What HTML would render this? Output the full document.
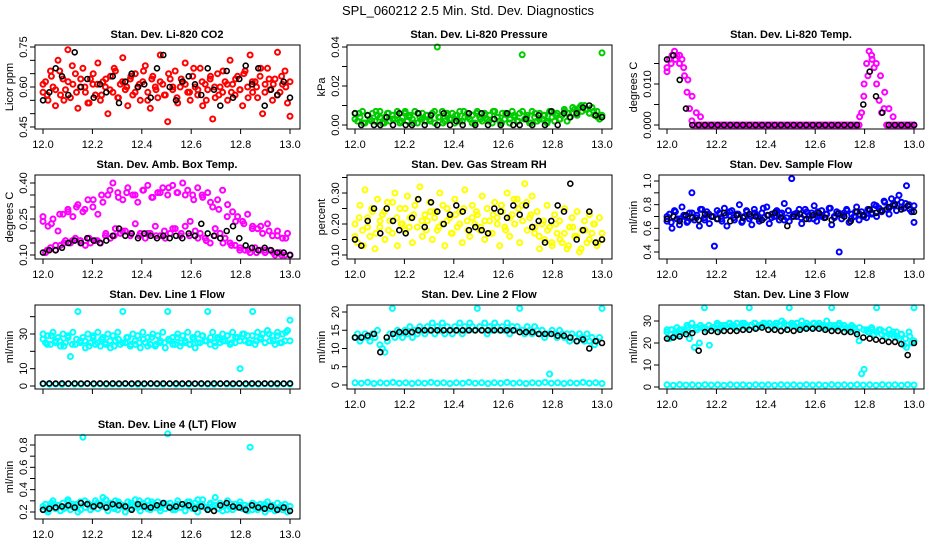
<!DOCTYPE html>
<html><head><meta charset="utf-8">
<style>
html,body{margin:0;padding:0;background:#fff;}
svg{display:block;font-family:"Liberation Sans",sans-serif;}
</style></head>
<body>
<svg id="chart" width="936" height="540" viewBox="0 0 936 540" xmlns="http://www.w3.org/2000/svg">
<text x="468" y="15" text-anchor="middle" font-size="13">SPL_060212  2.5 Min. Std. Dev. Diagnostics</text>
</svg>
<script>
const xTickVals = [12.0,12.2,12.4,12.6,12.8,13.0];
const xTickLabels = ["12.0","12.2","12.4","12.6","12.8","13.0"];

const co2Red = [0.58,0.62,0.55,0.66,0.60,0.53,0.70,0.57,0.63,0.59,0.74,0.56,0.61,0.65,0.52,0.60,0.67,0.58,0.54,0.63,
0.61,0.57,0.69,0.55,0.62,0.60,0.50,0.64,0.58,0.66,0.56,0.61,0.71,0.59,0.53,0.63,0.57,0.65,0.60,0.55,
0.62,0.68,0.58,0.52,0.64,0.60,0.56,0.72,0.61,0.57,0.47,0.63,0.59,0.66,0.54,0.60,0.62,0.69,0.58,0.55,
0.64,0.60,0.57,0.67,0.53,0.61,0.59,0.63,0.48,0.56,0.65,0.60,0.58,0.62,0.55,0.70,0.61,0.57,0.64,0.59,
0.53,0.66,0.60,0.72,0.58,0.62,0.56,0.64,0.50,0.61,0.67,0.59,0.55,0.63,0.73,0.58,0.61,0.66,0.54,0.49];
const co2Red2 = [0.61,0.57,0.64,0.59,0.66,0.55,0.62,0.68,0.58,0.63,0.60,0.54,0.65,0.61,0.57,0.63,0.59,0.67,0.56,0.62,0.60,0.64,0.58,0.61,0.66,0.55,0.63,0.59,0.62,0.57,0.65,0.60,0.56,0.63,0.61,0.58,0.67,0.59,0.62,0.55,0.64,0.60,0.57,0.66,0.61,0.58,0.63,0.59,0.65,0.56,0.62,0.60,0.67,0.58,0.63,0.61,0.57,0.64,0.60,0.62];
const co2Black = [0.55,0.58,0.67,0.64,0.57,0.73,0.60,0.63,0.56,0.61,0.58,0.64,0.54,0.62,0.65,0.60,0.61,0.56,0.67,0.72,0.60,0.55,0.62,0.64,0.61,0.57,0.67,0.59,0.53,0.66,0.56,0.63,0.68,0.61,0.67,0.53,0.59,0.57,0.62,0.56];

const pressGreen = [0.006,0.002,0.004,0.007,0.001,0.005,0.003,0.006,0.002,0.005,
0.007,0.001,0.004,0.006,0.002,0.005,0.003,0.007,0.001,0.004,
0.006,0.002,0.005,0.003,0.007,0.001,0.004,0.006,0.002,0.005,
0.003,0.006,0.001,0.040,0.004,0.007,0.002,0.005,0.003,0.006,
0.001,0.005,0.007,0.002,0.004,0.006,0.003,0.005,0.001,0.007,
0.004,0.002,0.006,0.003,0.005,0.001,0.007,0.004,0.002,0.006,
0.003,0.005,0.001,0.007,0.004,0.002,0.006,0.036,0.003,0.005,
0.001,0.007,0.004,0.002,0.006,0.003,0.005,0.001,0.007,0.004,
0.002,0.006,0.003,0.005,0.007,0.002,0.004,0.006,0.008,0.005,
0.009,0.007,0.010,0.008,0.006,0.009,0.005,0.007,0.003,0.037];
const pressGreen2 = [0.003,0.006,0.001,0.005,0.002,0.007,0.004,0.001,0.006,0.003,0.005,0.002,0.007,0.004,0.001,0.006,0.003,0.005,0.002,0.007,0.004,0.001,0.006,0.003,0.005,0.002,0.007,0.004,0.001,0.006,0.003,0.005,0.002,0.007,0.004,0.001,0.006,0.003,0.005,0.002,0.007,0.004,0.001,0.006,0.003,0.005,0.002,0.007,0.005,0.003,0.008,0.006,0.009,0.007,0.010,0.008,0.006,0.007,0.004,0.005];
const pressBlack = [0.006,0.0,0.005,0.0,0.0,0.004,0.0,0.006,0.0,0.0,0.006,0.0,0.005,0.0,0.006,0.0,0.002,0.0,0.006,0.0,0.006,0.0,0.003,0.0,0.006,0.0,0.0,0.003,0.0,0.005,0.0,0.007,0.0,0.006,0.004,0.006,0.009,0.010,0.005,0.004];

const tempMag = [0.014,0.016,0.017,0.018,0.017,0.015,0.016,0.012,0.008,0.004,0.001,0,0,0,0,0,0,0,0,0,
0,0,0,0,0,0,0,0,0,0,0,0,0,0,0,0,0,0,0,0,
0,0,0,0,0,0,0,0,0,0,0,0,0,0,0,0,0,0,0,0,
0,0,0,0,0,0,0,0,0,0,0,0,0,0,0,0,0,0,0.003,0.010,
0.015,0.018,0.017,0.014,0.010,0.006,0.003,0.004,0,0,0,0,0,0,0,0,0,0,0,0];
const tempMag2 = [0.013,0.015,0.016,0.017,0.014,0.011,0.007,0.003,0.002,0,0,0,0,0,0,0,0,0,0,0,0,0,0,0,0,0,0,0,0,0,0,0,0,0,0,0,0,0,0,0,0,0,0,0,0,0,0.002,0.007,0.012,0.016,0.015,0.012,0.008,0.004,0.002,0,0,0,0,0];
const tempBlack = [0.016,0.017,0.011,0.004,0,0,0,0,0,0,0,0,0,0,0,0,0,0,0,0,0,0,0,0,0,0,0,0,0,0,0,0.005,0.013,0.007,0.003,0,0,0,0,0];

const ambMag = [.26,.11,.22,.13,.25,.12,.20,.14,.27,.16,.29,.15,.26,.17,.31,.16,.28,.14,.33,.15,
.30,.16,.27,.15,.32,.18,.35,.17,.40,.21,.36,.19,.33,.20,.38,.18,.35,.23,.32,.19,
.37,.17,.39,.19,.34,.22,.36,.18,.38,.17,.35,.19,.39,.21,.36,.18,.40,.22,.37,.24,
.35,.20,.38,.19,.34,.17,.36,.15,.30,.21,.33,.19,.37,.17,.31,.15,.28,.14,.26,.13,
.24,.12,.27,.11,.22,.13,.21,.12,.19,.11,.23,.12,.18,.10,.20,.11,.17,.10,.19,.10];
const ambMag2 = [.24,.12,.23,.14,.27,.15,.28,.16,.30,.15,.29,.17,.33,.16,.35,.19,.37,.18,.34,.20,.36,.19,.35,.18,.37,.19,.34,.18,.36,.20,.38,.21,.36,.19,.35,.18,.33,.17,.35,.16,.32,.18,.29,.15,.26,.14,.24,.12,.23,.12,.21,.11,.22,.12,.20,.11,.18,.10,.17,.10];
const ambBlack = [.11,.12,.12,.13,.15,.16,.15,.17,.16,.15,.16,.18,.21,.18,.19,.17,.19,.18,.17,.18,.17,.18,.17,.19,.18,.23,.19,.18,.17,.20,.22,.17,.14,.13,.12,.13,.12,.11,.11,.10];

const rhYellow = [.20,.14,.26,.18,.31,.22,.16,.24,.12,.28,.19,.23,.15,.27,.21,.17,.30,.13,.25,.20,
.18,.29,.22,.14,.26,.19,.32,.16,.23,.21,.27,.15,.24,.18,.30,.20,.13,.25,.22,.17,
.28,.19,.24,.14,.31,.21,.16,.26,.20,.23,.18,.29,.15,.25,.21,.17,.27,.22,.13,.24,
.19,.30,.16,.23,.20,.28,.14,.26,.33,.18,.22,.29,.17,.24,.12,.20,.15,.26,.19,.13,
.23,.17,.21,.14,.25,.12,.19,.22,.16,.24,.11,.18,.21,.14,.23,.17,.20,.13,.22,.15];
const rhYellow2 = [.16,.22,.13,.19,.25,.17,.21,.24,.18,.27,.22,.20,.25,.19,.23,.28,.21,.18,.24,.22,.19,.26,.21,.17,.23,.20,.25,.18,.22,.24,.19,.21,.17,.23,.20,.26,.18,.22,.28,.25,.21,.27,.23,.19,.16,.21,.18,.14,.20,.15,.17,.13,.19,.16,.12,.18,.15,.20,.14,.17];
const rhBlack = [.15,.13,.21,.25,.17,.25,.21,.18,.17,.22,.28,.19,.27,.24,.20,.23,.26,.24,.18,.19,.18,.17,.25,.24,.22,.26,.23,.26,.19,.21,.14,.21,.26,.24,.33,.15,.18,.24,.14,.15];

const flowBlue = [.66,.72,.60,.75,.68,.63,.78,.70,.65,.73,.90,.67,.71,.62,.76,.69,.74,.64,.70,.45,
.68,.73,.66,.77,.62,.71,.75,.67,.72,.80,.65,.70,.74,.68,.63,.76,.71,.66,.73,.69,
.78,.64,.72,.70,.75,.67,.73,.81,.69,.66,1.02,.72,.70,.76,.64,.71,.74,.68,.73,.79,
.66,.71,.75,.69,.72,.77,.63,.70,.74,.40,.68,.73,.76,.65,.72,.70,.78,.67,.74,.71,
.69,.75,.72,.80,.70,.77,.74,.83,.76,.72,.85,.79,.75,.88,.82,.77,.96,.80,.74,.65];
const flowBlue2 = [.70,.65,.74,.68,.71,.66,.73,.69,.76,.67,.72,.70,.75,.68,.71,.74,.69,.72,.66,.75,.70,.73,.68,.77,.71,.69,.74,.72,.67,.75,.70,.73,.69,.76,.71,.68,.74,.70,.72,.77,.69,.73,.71,.75,.68,.74,.72,.70,.76,.73,.79,.75,.82,.77,.80,.84,.78,.81,.76,.79];
const flowBlack = [.68,.70,.66,.71,.69,.67,.72,.70,.68,.73,.66,.71,.69,.72,.70,.67,.71,.73,.69,.62,.70,.72,.68,.71,.73,.69,.67,.72,.70,.66,.74,.71,.76,.73,.75,.78,.80,.76,.79,.74];

const line1Cyan = [30,25,29,24,31,26,28,23,30,25,29,17,31,24,43,26,28,22,30,25,
29,24,31,23,28,25,30,22,29,26,31,24,43,25,28,23,30,24,29,22,
31,25,28,24,30,23,29,25,31,22,43,26,28,24,30,23,29,25,31,24,
28,22,30,25,29,26,43,24,31,23,28,25,30,26,29,24,31,25,28,10,
30,26,29,25,43,24,31,27,30,25,32,26,29,24,31,25,30,26,32,38];
const line1Cyan2 = [27,24,29,25,26,23,28,24,27,25,26,23,28,25,27,24,26,23,27,25,28,24,26,25,27,23,28,24,26,25,27,24,28,25,26,24,27,25,29,26,28,25,27,26,29,25,28,26,30,25,29,26,28,25,30,26,29,25,31,26];
const line1Zero = [1.2,1.0,1.1,0.9,1.2,1.0,1.1,1.3,1.0,1.2,0.9,1.1,1.0,1.2,1.1,0.9,1.0,1.2,1.1,1.0,1.2,0.9,1.1,1.0,1.2,1.1,1.0,0.9,1.2,1.1,1.0,1.2,0.9,1.1,1.0,1.2,1.1,1.0,1.2,1.1];
const line1Black = [1.4,1.5,1.4,1.5,1.4,1.5,1.4,1.5,1.4,1.5,1.4,1.5,1.4,1.5,1.4,1.5,1.4,1.5,1.4,1.5,1.4,1.5,1.4,1.5,1.4,1.5,1.4,1.5,1.4,1.5,1.4,1.5,1.4,1.5,1.4,1.5,1.4,1.5,1.4,1.5];

const line2Cyan = [13,14,12,13,14,13,12,14,13,15,11,10,9,12,14,21,13,15,14,13,
15,14,16,13,15,14,16,15,14,16,15,17,14,16,15,17,14,16,15,14,
16,15,17,14,16,15,17,16,15,21,16,15,17,14,16,15,17,16,15,16,
15,17,14,16,15,16,21,15,14,16,15,14,16,15,14,15,13,14,3,15,
14,13,15,14,13,14,12,14,13,12,14,13,12,14,12,13,11,12,13,21];
const line2Zero = [0.6,0.5,0.7,0.4,0.6,0.5,0.7,0.5,0.6,0.4,0.6,0.5,0.7,0.5,0.6,0.4,0.6,0.5,0.7,0.5,0.6,0.4,0.6,0.5,0.7,0.5,0.6,0.4,0.6,0.5,0.7,0.5,0.6,0.4,0.6,0.5,0.7,0.5,0.6,0.4];
const line2Black = [13,13,13.5,14,9,13,14,14.5,14.5,14.5,15,15,15,15,15,15,15,15,15,15,15,15,15,15,15,15,14.5,14.5,14.5,14,14,14,13.5,13.5,13,12,12.5,10,12,11.5];

const line3Cyan = [26,22,26,23,27,24,26,25,28,22,29,18,26,20,27,36,26,19,27,27,
28,26,27,28,27,29,28,27,29,27,28,29,27,36,28,29,27,28,28,29,
28,29,27,28,29,28,30,27,28,36,29,28,29,27,30,28,29,28,27,29,
28,29,27,28,30,27,36,28,27,29,27,28,27,26,28,27,25,21,6,8,
26,25,27,24,36,26,24,25,23,26,24,23,25,22,24,19,18,25,20,36];
const line3Cyan2 = [25,26,24,26,25,27,26,27,28,27,28,27,29,28,28,29,28,27,29,28,28,29,28,29,28,27,29,28,29,28,28,29,28,27,28,29,28,28,27,28,27,28,27,26,27,26,27,26,25,26,25,26,25,24,25,23,24,22,23,21];
const line3Zero = [1.0,0.8,1.1,0.9,1.0,0.8,1.1,0.9,1.0,0.8,1.1,0.9,1.0,0.8,1.1,0.9,1.0,0.8,1.1,0.9,1.0,0.8,1.1,0.9,1.0,0.8,1.1,0.9,1.0,0.8,1.1,0.9,1.0,0.8,1.1,0.9,1.0,0.8,1.1,0.9];
const line3Black = [22,22.5,23,24,24.5,16.5,25,25.5,25,25.5,25.5,25.5,26,26,26.5,27,26,26,25.5,26,25.5,26,26.5,26.5,26.5,26,25.5,25.5,25,25,24,22.5,22,21.5,21,20.5,20.5,19.5,14.5,20];

const line4Cyan = [.22,.27,.20,.25,.30,.23,.26,.21,.28,.24,.31,.22,.27,.25,.20,.29,.87,.24,.28,.22,
.26,.30,.23,.27,.33,.25,.21,.28,.24,.30,.22,.27,.25,.20,.29,.23,.26,.31,.24,.21,
.28,.25,.30,.22,.27,.24,.29,.21,.26,.23,.90,.28,.25,.22,.30,.24,.27,.21,.29,.25,
.23,.28,.20,.26,.31,.24,.22,.27,.25,.33,.23,.28,.21,.26,.30,.24,.22,.27,.25,.29,
.23,.26,.21,.78,.28,.24,.22,.27,.25,.20,.29,.23,.26,.21,.28,.24,.22,.27,.20,.25];
const line4Cyan2 = [.25,.22,.28,.24,.26,.23,.29,.25,.27,.22,.30,.26,.24,.28,.25,.31,.27,.23,.29,.26,.24,.28,.25,.30,.27,.23,.29,.26,.24,.28,.25,.22,.27,.24,.26,.29,.25,.31,.27,.24,.28,.26,.23,.25,.22,.27,.24,.26,.23,.25,.22,.26,.24,.27,.23,.25,.22,.26,.24,.25];
const line4Black = [.22,.23,.24,.25,.26,.24,.28,.27,.25,.26,.24,.27,.26,.25,.22,.27,.25,.24,.26,.28,.24,.25,.27,.26,.23,.25,.22,.21,.26,.28,.25,.24,.22,.26,.24,.23,.25,.22,.24,.21];

const panelTitles = ["Stan. Dev. Li-820 CO2","Stan. Dev. Li-820 Pressure","Stan. Dev. Li-820 Temp.","Stan. Dev. Amb. Box Temp.","Stan. Dev. Gas Stream RH","Stan. Dev. Sample Flow","Stan. Dev. Line 1 Flow","Stan. Dev. Line 2 Flow","Stan. Dev. Line 3 Flow","Stan. Dev. Line 4 (LT) Flow"];
const yTitles = ["Licor ppm","kPa","degrees C","degrees C","percent","ml/min","ml/min","ml/min","ml/min","ml/min"];
const yTicks = [[0.45,0.50,0.55,0.60,0.65,0.70,0.75],[0,0.01,0.02,0.03,0.04],[0,0.005,0.010,0.015],[0.10,0.15,0.20,0.25,0.30,0.35,0.40],[0.10,0.15,0.20,0.25,0.30,0.35],[0.4,0.5,0.6,0.7,0.8,0.9,1.0],[0,10,20,30,40],[0,5,10,15,20],[0,10,20,30],[0.2,0.3,0.4,0.5,0.6,0.7,0.8]];
const yLabelVals = [[0.45,0.60,0.75],[0,0.02,0.04],[0,0.010],[0.10,0.25,0.40],[0.10,0.20,0.30],[0.4,0.6,0.8,1.0],[0,10,30],[0,5,10,15,20],[0,10,20,30],[0.2,0.4,0.6,0.8]];
const yLabelText = [["0.45","0.60","0.75"],["0.00","0.02","0.04"],["0.000","0.010"],["0.10","0.25","0.40"],["0.10","0.20","0.30"],["0.4","0.6","0.8","1.0"],["0","10","30"],["0","5","10","15","20"],["0","10","20","30"],["0.2","0.4","0.6","0.8"]];

const svg = document.getElementById('chart');
const NS = 'http://www.w3.org/2000/svg';
function mk(tag, attrs, parent){const e=document.createElementNS(NS,tag);for(const k in attrs)e.setAttribute(k,attrs[k]);(parent||svg).appendChild(e);return e;}

const layout = [
 {c:0,r:0,a:0.75,pa:47,b:0.45,pb:127},
 {c:1,r:0,a:0.04,pa:47,b:0,pb:125},
 {c:2,r:0,a:0.010,pa:84,b:0,pb:125},
 {c:0,r:1,a:0.40,pa:53,b:0.10,pb:125},
 {c:1,r:1,a:0.30,pa:63,b:0.10,pb:125},
 {c:2,r:1,a:1.0,pa:51,b:0.4,pb:122},
 {c:0,r:2,a:30,pa:74,b:0,pb:126},
 {c:1,r:2,a:20,pa:52,b:0,pb:125},
 {c:2,r:2,a:30,pa:61,b:0,pb:127},
 {c:0,r:3,a:0.8,pa:55,b:0.2,pb:122}
];
const seriesFor = [
 [[co2Red,'#ff0000'],[co2Red2,'#ff0000'],[co2Black,'#000']],
 [[pressGreen,'#00cc00'],[pressGreen2,'#00cc00'],[pressBlack,'#000']],
 [[tempMag,'#ff00ff'],[tempMag2,'#ff00ff'],[tempBlack,'#000']],
 [[ambMag,'#ff00ff'],[ambMag2,'#ff00ff'],[ambBlack,'#000']],
 [[rhYellow,'#ffff00'],[rhYellow2,'#ffff00'],[rhBlack,'#000']],
 [[flowBlue,'#0000ff'],[flowBlue2,'#0000ff'],[flowBlack,'#000']],
 [[line1Cyan,'#00ffff'],[line1Cyan2,'#00ffff'],[line1Zero,'#00ffff'],[line1Black,'#000']],
 [[line2Cyan,'#00ffff'],[line2Zero,'#00ffff'],[line2Black,'#000']],
 [[line3Cyan,'#00ffff'],[line3Cyan2,'#00ffff'],[line3Zero,'#00ffff'],[line3Black,'#000']],
 [[line4Cyan,'#00ffff'],[line4Cyan2,'#00ffff'],[line4Black,'#000']]
];

layout.forEach((L, p) => {
  const ox = 312*L.c, oy = 130*L.r;
  const g = mk('g', {transform:`translate(${ox},${oy})`});
  
  
  const xs = v => 43 + (v-12)*247;
  const ys = v => L.pa + (v-L.a)*(L.pb-L.pa)/(L.b-L.a);
  const t = mk('text', {x:167, y:38, 'text-anchor':'middle', 'font-size':11, 'font-weight':'bold'}, g);
  
  
  t.textContent = panelTitles[p];
  const pts = mk('g', {fill:'none'}, g);
  
  
  seriesFor[p].forEach(([vals, col]) => {
    const n = vals.length;
    const black = col === '#000';
    vals.forEach((v, i) => {
      const cx = xs(12 + i/(n-1));
      const cy = ys(v);
      if (cy < 40 || cy > 132) return;
      const ci = mk('circle', {cx:cx.toFixed(1), cy:cy.toFixed(1), r:2.5, stroke:col, 'stroke-width': black ? 1.6 : 2}, pts);
      
      
    });
  });
  const box = mk('rect', {x:35, y:45, width:265, height:84, fill:'none', stroke:'#000', 'stroke-width':1}, g);
  
  
  xTickVals.forEach((v, i) => {
    const x = xs(v);
    const tk = mk('line', {x1:x, x2:x, y1:129, y2:134, stroke:'#000'}, g);
    
    
    if (L.r === 2 && L.c === 0) return;
    const lb = mk('text', {x:x, y:148, 'text-anchor':'middle', 'font-size':11}, g);
    
    
    lb.textContent = xTickLabels[i];
  });
  yTicks[p].forEach(v => {
    const y = ys(v);
    const tk = mk('line', {x1:30, x2:35, y1:y, y2:y, stroke:'#000'}, g);
    
    
  });
  yLabelVals[p].forEach((v, i) => {
    const y = ys(v);
    const lb = mk('text', {x:0, y:0, 'text-anchor':'middle', 'font-size':11, transform:`translate(27,${y}) rotate(-90)`}, g);
    
    
    lb.textContent = yLabelText[p][i];
  });
  const yt = mk('text', {x:0, y:0, 'text-anchor':'middle', 'font-size':11, transform:`translate(13,87) rotate(-90)`}, g);
  
  
  yt.textContent = yTitles[p];
});
</script>
</body></html>
